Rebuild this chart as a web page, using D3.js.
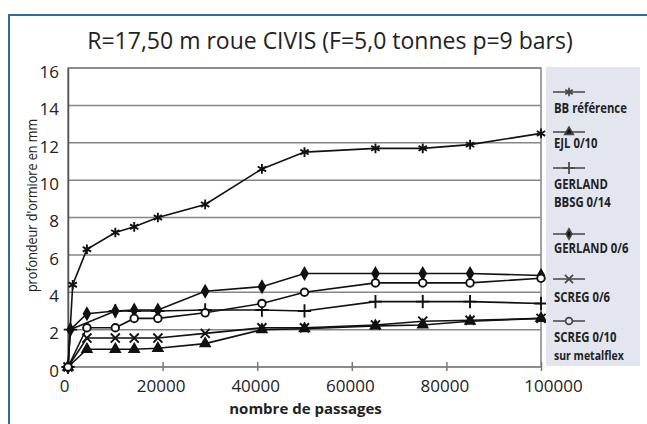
<!DOCTYPE html>
<html>
<head>
<meta charset="utf-8">
<script src="https://cdn.jsdelivr.net/npm/d3@7"></script>
<style>
body { margin: 0; background: #fff; }
svg { display: block; }
.tick-label { font-family: "Open Sans", sans-serif; font-size: 17px; fill: #222; }
.leg-label { font-family: "Open Sans", sans-serif; font-weight: bold; font-size: 14px; fill: #222; }
</style>
</head>
<body>
<div id="chart"></div>
<script>
// data
var titleText = "R=17,50 m roue CIVIS (F=5,0 tonnes p=9 bars)";
var yTicks = [0, 2, 4, 6, 8, 10, 12, 14, 16];
var xTicks = [0, 20000, 40000, 60000, 80000, 100000];

var seriesNames = ["BB référence", "EJL 0/10", "GERLAND BBSG 0/14", "GERLAND 0/6", "SCREG 0/6", "SCREG 0/10 sur metalflex"];
var legendLines = [["BB référence"], ["EJL 0/10"], ["GERLAND", "BBSG 0/14"], ["GERLAND 0/6"], ["SCREG 0/6"], ["SCREG 0/10", "sur metalflex"]];

var passagesLong = [0, 1000, 4000, 10000, 14000, 19000, 29000, 41000, 50000, 65000, 75000, 85000, 100000];
var passagesGer = [0, 500, 4000, 10000, 14000, 19000, 29000, 41000, 50000, 65000, 75000, 85000, 100000];
var passagesBbsg = [0, 500, 10000, 14000, 19000, 29000, 41000, 50000, 65000, 75000, 85000, 100000];
var passages = [0, 4000, 10000, 14000, 19000, 29000, 41000, 50000, 65000, 75000, 85000, 100000];

var bbReference = [0, 4.4, 6.3, 7.2, 7.5, 8.0, 8.7, 10.6, 11.5, 11.7, 11.7, 11.9, 12.5];
var ejl010 = [0, 0.95, 0.95, 0.95, 1.0, 1.25, 2.0, 2.05, 2.2, 2.25, 2.45, 2.6];
var gerlandBbsg = [0, 2.0, 3.0, 3.0, 3.0, 3.05, 3.05, 3.0, 3.5, 3.5, 3.5, 3.4];
var gerland06 = [0, 2.0, 2.85, 3.0, 3.05, 3.05, 4.05, 4.3, 5.0, 5.0, 5.0, 5.0, 4.9];
var screg06 = [0, 1.55, 1.55, 1.55, 1.55, 1.8, 2.1, 2.1, 2.25, 2.45, 2.5, 2.6];
var screg010 = [0, 2.1, 2.1, 2.6, 2.6, 2.9, 3.4, 4.0, 4.5, 4.5, 4.5, 4.75];

var series = [
    { name: seriesNames[0], x: passagesLong, y: bbReference, symbol: d3.symbolAsterisk, fill: "none", size: 65 },
    { name: seriesNames[1], x: passages, y: ejl010, symbol: d3.symbolTriangle, fill: "#111", size: 38 },
    { name: seriesNames[2], x: passagesBbsg, y: gerlandBbsg, symbol: d3.symbolPlus, fill: "none", size: 60 },
    { name: seriesNames[3], x: passagesGer, y: gerland06, symbol: d3.symbolDiamond, fill: "#111", size: 36 },
    { name: seriesNames[4], x: passages, y: screg06, symbol: d3.symbolTimes, fill: "none", size: 55 },
    { name: seriesNames[5], x: passages, y: screg010, symbol: d3.symbolCircle, fill: "#fff", size: 45 }
];

var W = 647, H = 424;
var margin = { top: 68, right: 106, bottom: 57, left: 68 };

var svg = d3.select("#chart").append("svg").attr("width", W).attr("height", H);

var x = d3.scaleLinear().domain([0, 100000]).range([margin.left, W - margin.right]);
var y = d3.scaleLinear().domain([0, 16]).range([H - margin.bottom, margin.top]);

// blue outer frame
svg.append("path")
    .attr("d", "M9," + H + "V15H" + W)
    .attr("fill", "none")
    .attr("stroke", "#2f6aa6")
    .attr("stroke-width", 2);

svg.append("text")
    .attr("x", 330).attr("y", 49)
    .attr("text-anchor", "middle")
    .style("font-family", "'Open Sans', sans-serif")
    .style("font-size", "23px")
    .style("font-weight", 500)
    .style("fill", "#222")
    .text(titleText);

// plot background + grid
svg.append("rect")
    .attr("x", x(0)).attr("y", y(16))
    .attr("width", x(100000) - x(0)).attr("height", y(0) - y(16))
    .attr("fill", "#fff");

svg.append("g")
    .selectAll("line")
    .data(yTicks)
    .join("line")
    .attr("x1", x(0)).attr("x2", x(100000))
    .attr("y1", function (d) { return y(d); })
    .attr("y2", function (d) { return y(d); })
    .attr("stroke", "#858585")
    .attr("stroke-width", 1.5);

svg.append("rect")
    .attr("x", x(0)).attr("y", y(16))
    .attr("width", x(100000) - x(0)).attr("height", y(0) - y(16))
    .attr("fill", "none")
    .attr("stroke", "#858585")
    .attr("stroke-width", 1.5);

// x axis
var xAxis = d3.axisBottom(x).tickValues(xTicks).tickSize(4).tickSizeOuter(0).tickFormat(d3.format("d"));
var gx = svg.append("g").attr("transform", "translate(0," + y(0) + ")").call(xAxis);
gx.select(".domain").remove();
gx.selectAll(".tick line").attr("stroke", "#777").attr("stroke-width", 1.5).attr("y1", -5);
gx.selectAll(".tick text").attr("class", "tick-label").attr("dy", "1.05em").attr("dx", function (d) { return d === 100000 ? 12 : (d === 0 ? -4 : -2); });

// y axis
var yAxis = d3.axisLeft(y).tickValues(yTicks).tickSize(0);
var gy = svg.append("g").attr("transform", "translate(" + x(0) + ",0)").call(yAxis);
gy.select(".domain").attr("stroke", "#555").attr("stroke-width", 1.5);
gy.selectAll(".tick text").attr("class", "tick-label").attr("x", -9).attr("dy", "0.55em");

svg.append("text")
    .attr("transform", "translate(37," + ((y(0) + y(16)) / 2 - 12) + ") rotate(-90) scale(0.9,1)")
    .attr("text-anchor", "middle")
    .style("font-family", "'Open Sans', sans-serif")
    .style("font-size", "14px")
    .style("fill", "#222")
    .text("profondeur d'ormiore en mm");

svg.append("text")
    .attr("x", (x(0) + x(100000)) / 2 + 1).attr("y", 414)
    .attr("text-anchor", "middle")
    .attr("class", "leg-label")
    .style("font-size", "15px")
    .text("nombre de passages");

// series
var line = d3.line()
    .x(function (d) { return x(d[0]); })
    .y(function (d) { return y(d[1]); });

series.forEach(function (s) {
    var pts = s.x.map(function (v, i) { return [v, s.y[i]]; });
    svg.append("path")
        .datum(pts)
        .attr("d", line)
        .attr("fill", "none")
        .attr("stroke", "#111")
        .attr("stroke-width", 1.6);
    svg.append("g")
        .selectAll("path")
        .data(pts)
        .join("path")
        .attr("transform", function (d) { return "translate(" + x(d[0]) + "," + y(d[1]) + ")"; })
        .attr("d", d3.symbol().type(s.symbol).size(s.size))
        .attr("fill", s.fill)
        .attr("stroke", "#111")
        .attr("stroke-width", 1.9);
});

// legend
var legX = 546, legW = 94;
svg.append("rect")
    .attr("x", legX).attr("y", 67)
    .attr("width", legW).attr("height", 299)
    .attr("fill", "#e3e6ee");

var legSampleY = [92, 132, 168, 234, 279, 321];
var legTextY = [113, 148, 189, 253, 302, 342];

series.forEach(function (s, i) {
    var g = svg.append("g");
    g.append("line")
        .attr("x1", legX + 7).attr("x2", legX + 39)
        .attr("y1", legSampleY[i]).attr("y2", legSampleY[i])
        .attr("stroke", "#444").attr("stroke-width", 1.5);
    g.append("path")
        .attr("transform", "translate(" + (legX + 23) + "," + legSampleY[i] + ")")
        .attr("d", d3.symbol().type(s.symbol).size(s.size * 0.8))
        .attr("fill", s.fill === "#fff" ? "#e3e6ee" : s.fill)
        .attr("stroke", "#444")
        .attr("stroke-width", 1.7);
    legendLines[i].forEach(function (t, j) {
        // the original legend font is condensed: squeeze Open Sans horizontally
        g.append("text")
            .attr("class", "leg-label")
            .attr("transform", "translate(" + (legX + 8) + "," + (legTextY[i] + j * 18) + ") scale(0.84,1)")
            .style("font-size", j === 1 && i === 5 ? "12.5px" : "13.5px")
            .text(t);
    });
});
</script>
</body>
</html>
